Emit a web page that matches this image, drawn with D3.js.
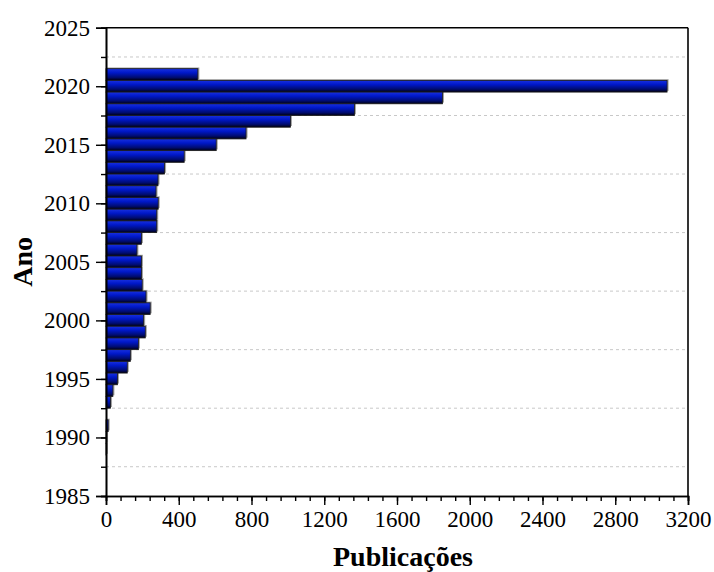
<!DOCTYPE html>
<html>
<head>
<meta charset="utf-8">
<script src="https://cdn.jsdelivr.net/npm/d3@7"></script>
<style>
  html, body { margin: 0; padding: 0; background: #fff; }
  #draw_svg { width: 714px; height: 572px; }
  svg text { font-family: "Liberation Serif", "Times New Roman", "DejaVu Serif", serif !important; fill: #000; }
</style>
</head>
<body>
<div id="draw_svg"></div>
<script>
// 数据：每年的出版物数量
const years = [2021, 2020, 2019, 2018, 2017, 2016, 2015, 2014, 2013, 2012, 2011,
    2010, 2009, 2008, 2007, 2006, 2005, 2004, 2003, 2002, 2001,
    2000, 1999, 1998, 1997, 1996, 1995, 1994, 1993, 1992, 1991, 1990, 1989];
const publications = [505, 3085, 1850, 1366, 1014, 770, 606, 430, 322, 286, 275,
    287, 279, 279, 195, 170, 195, 195, 199, 220, 243,
    207, 216, 178, 134, 117, 63, 38, 25, 0, 12, 3, 2];
const yTicks = [1985, 1990, 1995, 2000, 2005, 2010, 2015, 2020, 2025];
const xTicks = [0, 400, 800, 1200, 1600, 2000, 2400, 2800, 3200];
const xTitle = 'Publicações';
const yTitle = 'Ano';

const W = 714, H = 572;
const mLeft = 106, mRight = 688, mTop = 27.7, mBottom = 496;
const serif = '"Liberation Serif", "Times New Roman", serif';

/**
 * 绘制图表
 */
drawChart = () =>{
    const data = years.map((y, i) => ({year: y, value: publications[i]}));

    const svg = d3.select('#draw_svg')
        .append('svg')
        .attr('width', W)
        .attr('height', H);

    const x = d3.scaleLinear().domain([0, 3200]).range([mLeft, mRight]);
    const y = d3.scaleLinear().domain([1985, 2025]).range([mBottom, mTop]);

    // 渐变
    const grad = svg.append('defs').append('linearGradient')
        .attr('id', 'barGrad')
        .attr('x1', 0).attr('y1', 0).attr('x2', 0).attr('y2', 1);
    grad.append('stop').attr('offset', '0%').attr('stop-color', '#1830e0');
    grad.append('stop').attr('offset', '35%').attr('stop-color', '#0018c8');
    grad.append('stop').attr('offset', '75%').attr('stop-color', '#000c70');
    grad.append('stop').attr('offset', '100%').attr('stop-color', '#000010');

    // 网格线（次刻度位置）
    const gridVals = d3.range(1987.5, 2025, 5);
    svg.append('g').selectAll('line')
        .data(gridVals)
        .enter()
        .append('line')
        .attr('x1', mLeft).attr('x2', mRight)
        .attr('y1', d => y(d)).attr('y2', d => y(d))
        .attr('stroke', '#c8c8c8')
        .attr('stroke-width', 1)
        .attr('stroke-dasharray', '3,3');

    const band = Math.abs(y(1) - y(0));
    const bars = data.filter(d => d.value > 0);

    // 阴影
    svg.append('g').selectAll('rect')
        .data(bars)
        .enter()
        .append('rect')
        .attr('x', x(0))
        .attr('y', d => y(d.year + 0.5) - 1.2)
        .attr('width', d => x(d.value) - x(0) + 1.5)
        .attr('height', band)
        .attr('fill', '#a0a0a0');

    svg.append('g').selectAll('rect')
        .data(bars)
        .enter()
        .append('rect')
        .attr('x', x(0))
        .attr('y', d => y(d.year + 0.5))
        .attr('width', d => x(d.value) - x(0))
        .attr('height', band)
        .attr('fill', 'url(#barGrad)')
        .attr('stroke', '#1a1a1a')
        .attr('stroke-width', 0.8);

    // 坐标轴
    const xAxis = d3.axisBottom(x).tickValues(xTicks).tickSize(9).tickPadding(6).tickFormat(d3.format('d'));
    const xMinor = d3.axisBottom(x).tickValues(d3.range(0, 3201, 80)).tickSize(5).tickFormat('');
    const yAxis = d3.axisLeft(y).tickValues(yTicks).tickSize(10).tickPadding(6).tickFormat(d3.format('d'));
    const yMinor = d3.axisLeft(y).tickValues(d3.range(1985, 2026, 2.5)).tickSize(5).tickFormat('');

    const styleAxis = (g) =>{
        g.attr('font-family', serif).attr('font-size', 23);
        g.select('.domain').attr('stroke', '#000').attr('stroke-width', 1.6);
        g.selectAll('.tick line').attr('stroke', '#000').attr('stroke-width', 1.4);
        g.selectAll('.tick text')
            .style('font-family', serif)
            .style('font-size', '23px');
    };

    svg.append('g').attr('transform', `translate(0,${mBottom})`).call(xMinor).call(styleAxis);
    svg.append('g').attr('transform', `translate(0,${mBottom})`).call(xAxis).call(styleAxis);
    svg.append('g').attr('transform', `translate(${mLeft},0)`).call(yMinor).call(styleAxis);
    svg.append('g').attr('transform', `translate(${mLeft},0)`).call(yAxis).call(styleAxis);

    // 上、右边框
    svg.append('line')
        .attr('x1', mLeft).attr('x2', mRight).attr('y1', mTop).attr('y2', mTop)
        .attr('stroke', '#000').attr('stroke-width', 1.6);
    svg.append('line')
        .attr('x1', mRight).attr('x2', mRight).attr('y1', mTop).attr('y2', mBottom)
        .attr('stroke', '#000').attr('stroke-width', 1.6);

    // 标题
    svg.append('text')
        .attr('x', 403).attr('y', 566)
        .attr('text-anchor', 'middle')
        .style('font-family', serif)
        .style('font-size', '28px')
        .style('font-weight', 'bold')
        .text(xTitle);

    svg.append('text')
        .attr('transform', `translate(32,${(mTop + mBottom) / 2}) rotate(-90)`)
        .attr('text-anchor', 'middle')
        .style('font-family', serif)
        .style('font-size', '28px')
        .style('font-weight', 'bold')
        .text(yTitle);
}

window.onload = ()=>{
    drawChart();
}
</script>
</body>
</html>
